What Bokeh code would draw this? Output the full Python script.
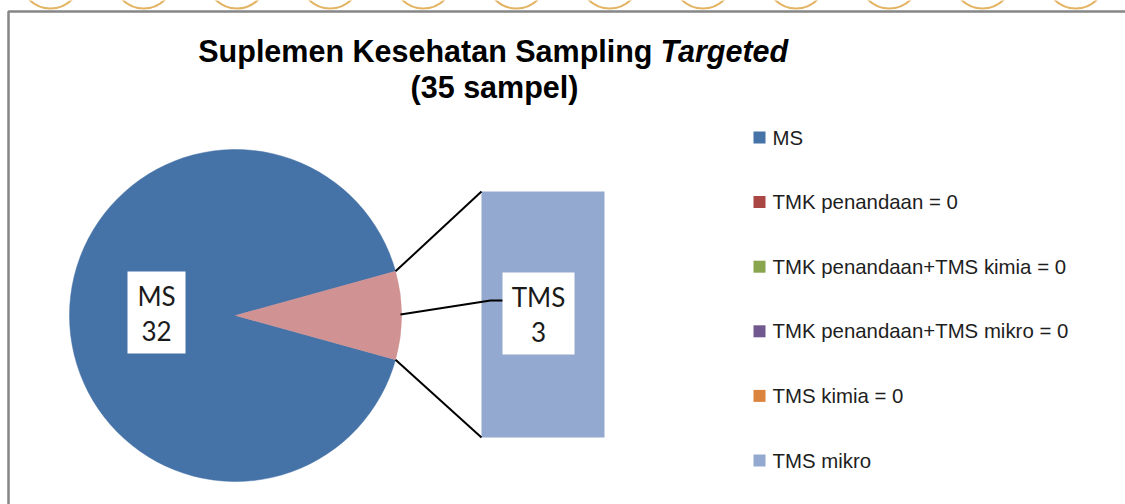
import math
from bokeh.plotting import figure
from bokeh.models import Range1d
from bokeh.core.properties import value
from bokeh.embed import file_html
from bokeh.resources import INLINE

# ---------------- data ----------------
title_main = "Suplemen Kesehatan Sampling"
title_italic = "Targeted"
title_line2 = "(35 sampel)"
categories = ["MS", "TMK penandaan", "TMK penandaan+TMS kimia",
              "TMK penandaan+TMS mikro", "TMS kimia", "TMS mikro"]
values = [32, 0, 0, 0, 0, 3]
legend_labels = ["MS", "TMK penandaan = 0", "TMK penandaan+TMS kimia = 0",
                 "TMK penandaan+TMS mikro = 0", "TMS kimia = 0", "TMS mikro"]
colors = ["#4572A7", "#AA4643", "#89A54E", "#71588F", "#DB843D", "#93A9CF"]
pie_label_names = ["MS", "TMS"]
other_color = "#D09292"

# ---------------- layout ----------------
W, H = 1125, 504


def fy(img_y):
    return H - img_y


p = figure(width=W, height=H, output_backend="svg", toolbar_location=None,
           x_range=Range1d(0, W), y_range=Range1d(0, H),
           x_axis_location=None, y_axis_location=None, min_border=0)
p.grid.visible = False
p.outline_line_color = None
p.background_fill_color = "white"
p.border_fill_color = "white"

# decorative golden arcs above the frame
for k in range(12):
    p.circle(x=[50 + 93.2 * k], y=[fy(-22)], radius=30, fill_color=None,
             line_color="#E3B463", line_width=2)

# chart frame (top and left visible)
p.quad(left=[8], right=[W + 10], top=[fy(11)], bottom=[fy(H + 10)],
       fill_color="white", line_color="#868686", line_width=2.5)

# ---------------- pie ----------------
cx, cy, r = 235, 315, 166
main_val = values[0]
other_vals = values[1:]
other_sum = sum(other_vals)
total = main_val + other_sum
theta = 2 * math.pi * other_sum / total

p.wedge(x=[cx], y=[fy(cy)], radius=r, start_angle=[theta / 2],
        end_angle=[2 * math.pi - theta / 2], fill_color=colors[0],
        line_color=colors[0], line_width=0.5)
p.wedge(x=[cx], y=[fy(cy)], radius=r, start_angle=[-theta / 2],
        end_angle=[theta / 2], fill_color=other_color,
        line_color=other_color, line_width=0.5)

# ---------------- bar of the "other" group ----------------
bx0, bx1, btop, bbot = 481, 604, 191, 437
bar_h = bbot - btop
acc = 0.0
for v, c in zip(other_vals, colors[1:]):
    if v <= 0:
        continue
    seg = bar_h * v / other_sum
    p.quad(left=[bx0], right=[bx1], bottom=[fy(bbot - acc)],
           top=[fy(bbot - acc - seg)], fill_color=c, line_color=None)
    acc += seg

# connector lines
ux, uy = cx + r * math.cos(theta / 2), cy - r * math.sin(theta / 2)
lx, ly = cx + r * math.cos(theta / 2), cy + r * math.sin(theta / 2)
p.line([ux, bx0], [fy(uy), fy(btop)], line_color="black", line_width=2)
p.line([lx, bx0], [fy(ly), fy(bbot)], line_color="black", line_width=2)

# leader line for TMS label
p.line([cx + r - 1, 490, 503], [fy(cy - 1), fy(300), fy(300)],
       line_color="black", line_width=2)

# ---------------- data labels ----------------
label_font = value("Lato")
boxes = [(156, 312, 58, 82, pie_label_names[0], str(main_val)),
         (538, 313, 72, 82, pie_label_names[1], str(other_sum))]
for bcx, bcy, bw, bh, name, val in boxes:
    p.rect(x=[bcx], y=[fy(bcy)], width=bw, height=bh, fill_color="white",
           line_color=None)
    p.text(x=[bcx], y=[fy(bcy - 17)], text=[name], text_font=label_font,
           text_font_size="26px", text_align="center",
           text_baseline="middle", text_color="#1a1a1a")
    p.text(x=[bcx], y=[fy(bcy + 18)], text=[val], text_font=label_font,
           text_font_size="26px", text_align="center",
           text_baseline="middle", text_color="#1a1a1a")

# ---------------- title ----------------
tfont = value("Liberation Sans")
p.text(x=[652], y=[fy(50)], text=[title_main], text_font=tfont,
       text_font_size="30.5px", text_font_style="bold", text_align="right",
       text_baseline="middle", text_color="black")
p.text(x=[660], y=[fy(50)], text=[title_italic], text_font=tfont,
       text_font_size="30.5px", text_font_style="bold italic",
       text_align="left", text_baseline="middle", text_color="black")
p.text(x=[494], y=[fy(86)], text=[title_line2], text_font=tfont,
       text_font_size="30.5px", text_font_style="bold", text_align="center",
       text_baseline="middle", text_color="black")

# ---------------- legend ----------------
ly0, lstep = 137, 64.6
for i, (lab, c) in enumerate(zip(legend_labels, colors)):
    yy = ly0 + i * lstep
    p.quad(left=[753], right=[765], top=[fy(yy - 6)], bottom=[fy(yy + 6)],
           fill_color=c, line_color=None)
    p.text(x=[772], y=[fy(yy)], text=[lab], text_font=tfont,
           text_font_size="20.4px", text_align="left", text_baseline="middle",
           text_color="#1e1e1e")

open("out.html", "w").write(file_html(p, INLINE))
